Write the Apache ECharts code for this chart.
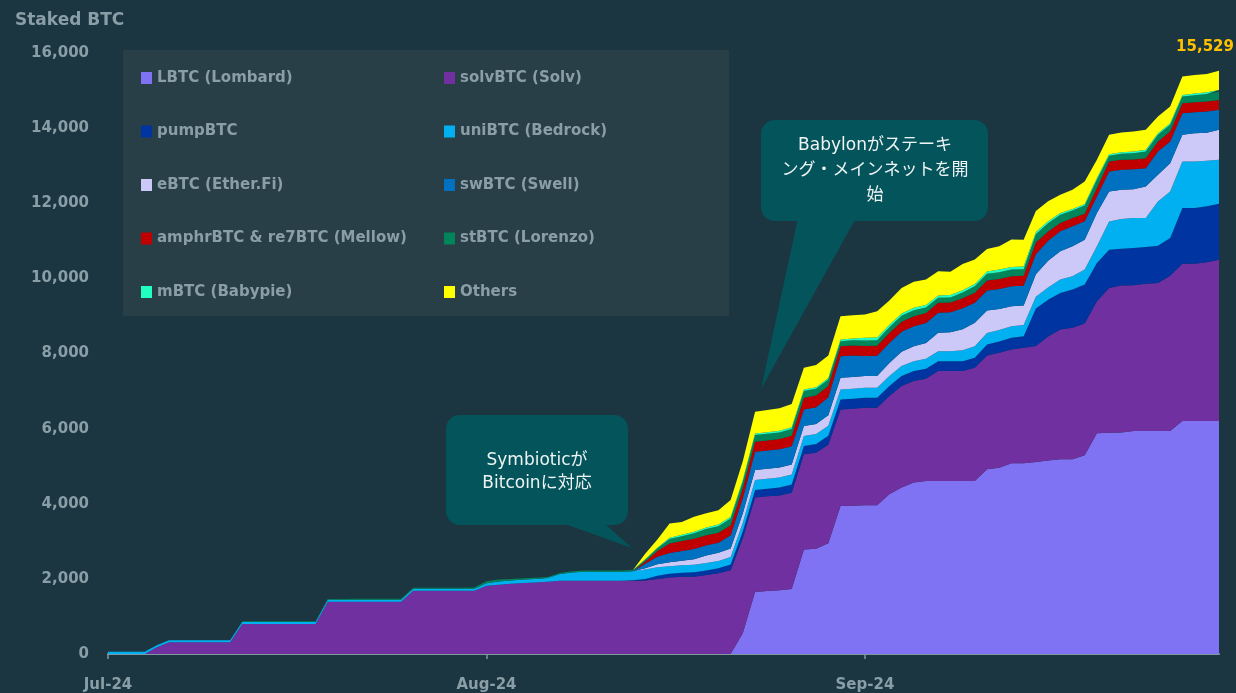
<!DOCTYPE html>
<html>
<head>
<meta charset="utf-8">
<script src="https://cdn.jsdelivr.net/npm/echarts@6/dist/echarts.min.js"></script>
<style>
  html, body { margin: 0; padding: 0; background: #1b3640; }
  #chart { width: 1236px; height: 693px; }
</style>
</head>
<body>
<div id="chart"></div>
<script>
// daily points, 1 Jul 2024 .. 30 Sep 2024
var startDay = new Date(Date.UTC(2024, 6, 1));
var dayCount = 92;
var monthNames = ['Jan','Feb','Mar','Apr','May','Jun','Jul','Aug','Sep','Oct','Nov','Dec'];

var lbtc = [
  0,0,0,0,0,0,0,0,0,0, 0,0,0,0,0,0,0,0,0,0, 0,0,0,0,0,0,0,0,0,0,
  0,0,0,0,0,0,0,0,0,0, 0,0,0,0,0,0,0,0,0,0, 0,0,
  560,1650,1680,1700,1730,2780,2800,2950,3942,3950,
  3960,3960,4253,4430,4563,4607,4607,4607,4607,4607,
  4917,4961,5076,5076,5111,5150,5182,5183,5289,5874,
  5892,5900,5936,5936,5936,5936,6202,6202,6202,6202
];
var solv = [
  0,0,0,0,177,310,310,310,310,310, 310,800,800,800,800,800,800,800,1390,1390,
  1390,1390,1390,1390,1390,1683,1683,1683,1683,1683, 1683,
  1816,1843,1870,1887,1905,1923,1950,1950,1950,1950,1950,1950,1950,
  1960,1994,2038,2055,2055,2100,2150,2230,2530,2515,
  2520,2520,2560,2536,2560,2620,2570,2580,2597,2597,
  2614,2702,2702,2720,2924,2924,2924,3013,3030,3057,
  3031,3075,3090,3300,3456,3500,3509,3517,3853,3907,
  3884,3924,3942,4137,4190,4190,4226,4297
];
var pump = [
  0,0,0,0,0,0,0,0,0,0, 0,0,0,0,0,0,0,0,0,0, 0,0,0,0,0,0,0,0,0,0,
  0,0,0,0,0,0,0,0,0,0, 0,0,0,
  15,40,88,100,110,120,125,133,150,180,200,200,210,221,221,230,240,
  266,266,266,266,266,266,266,266,266,266,266,266,
  290,300,310,310,1000,980,975,1018,1036,1019,1020,983,989,976,993,1002,1481,1481,1489,1489
];
var uni = [
  60,60,60,60,55,55,55,55,55,55, 55,55,55,55,55,55,55,55,55,55,
  55,55,55,55,55,55,55,55,55,55, 55,
  70,89,89,97,95,97,177,220,
  240,240,240,240,240,
  250,230,200,200,200,200,190,200,230,
  266,266,266,266,266,266,266,
  266,266,266,266,266,266,266,266,266,266,
  290,310,310,310,310,300,310,330,354,354,399,444,752,789,797,770,1178,1240,1239,1239,1213,1168
];
var ebtc = [
  0,0,0,0,0,0,0,0,0,0, 0,0,0,0,0,0,0,0,0,0, 0,0,0,0,0,0,0,0,0,0,
  0,0,0,0,0,0,0,0,0,0, 0,0,0,0,
  30,80,106,120,150,200,221,230,250,266,
  266,266,266,266,266,280,310,310,310,310,
  350,380,399,420,487,500,560,620,600,560,
  532,520,600,710,753,799,798,886,798,780,
  764,842,709,753,710,754,750,799
];
var swbtc = [
  0,0,0,0,0,0,0,0,0,0, 0,0,0,0,0,0,0,0,0,0, 0,0,0,0,0,0,0,0,0,0,
  0,0,0,0,0,0,0,0,0,0, 0,0,0,0,
  120,200,248,260,270,270,266,350,400,487,
  487,490,490,443,450,480,576,576,532,540,
  532,532,532,532,532,532,560,532,532,532,
  532,520,532,530,532,531,487,442,532,532,
  532,487,620,576,576,554,562,531
];
var mellow = [
  0,0,0,0,0,0,0,0,0,0, 0,0,0,0,0,0,0,0,0,0, 0,0,0,0,0,0,0,0,0,0,
  0,0,0,0,0,0,0,0,0,0, 0,0,0,0,
  60,150,248,260,270,266,266,270,266,266,
  266,270,280,310,310,300,266,266,266,266,
  266,266,266,266,266,266,266,266,
  266,266,266,266,
  310,250,222,220,200,222,265,265,265,265,
  266,266,266,266,266,266
];
var stbtc = [
  0,0,0,0,0,0,0,0,0,0, 0,20,20,20,20,20,20,20,20,20,
  25,25,25,25,25,25,25,25,25,25, 30,50,50,40,
  30,30,30,30,30,30,30,30,30,30,
  50,70,124,130,150,165,177,177,177,177,
  177,177,177,177,177,170,133,140,150,150,
  155,160,160,150,133,133,150,177,177,177,
  177,177,221,220,221,200,220,221,150,160,
  165,178,177,177,177,190,200,222
];
var mbtc = [
  0,0,0,0,0,0,0,0,0,0, 0,0,0,0,0,0,0,0,0,0, 0,0,0,0,0,0,0,0,0,0,
  0,0,0,0,0,0,0,0,0,0, 0,0,0,0,
  10,15,30,40,40,44,44,44,44,44,
  44,44,44,44,44,44,44,44,71,71,
  62,62,62,62,62,62,62,62,62,71,
  71,71,62,50,
  44,44,44,44,44,44,44,44,44,44,44,44,44,44
];
var others = [
  0,0,0,0,0,0,0,0,0,0, 0,0,0,0,0,0,0,0,0,0, 0,0,0,0,0,0,0,0,0,0,
  0,0,0,0,0,0,0,0,0,0, 0,0,0,0,
  150,220,380,340,400,380,380,450,500,576,
  590,600,620,576,590,600,620,620,620,700,
  650,680,691,680,647,620,700,650,600,620,
  727,716,560,530,487,510,599,487,516,524,
  534,533,444,444,487,496,491,511
];

var seriesNames = ['LBTC (Lombard)','solvBTC (Solv)','pumpBTC','uniBTC (Bedrock)','eBTC (Ether.Fi)',
  'swBTC (Swell)','amphrBTC & re7BTC (Mellow)','stBTC (Lorenzo)','mBTC (Babypie)','Others'];
var seriesData = [lbtc, solv, pump, uni, ebtc, swbtc, mellow, stbtc, mbtc, others];
var colors = ['#7f73f4','#7030a0','#0034a1','#00b0f0','#ccc8f8','#0070c0','#c00000','#00845a','#20ffc0','#ffff00'];
var yTicks = [0,2000,4000,6000,8000,10000,12000,14000,16000];

var dates = [];
for (var i = 0; i < dayCount; i++) {
  var d = new Date(startDay.getTime() + i * 86400000);
  dates.push(d.toISOString().slice(0, 10));
}
function isMonthStart(idx) { return dates[idx].slice(8) === '01'; }
function monthLabel(v) {
  var m = parseInt(v.slice(5, 7), 10) - 1;
  return monthNames[m] + '-' + v.slice(2, 4);
}

var last = dayCount - 1;
var total = 0;
seriesData.forEach(function (arr) { total += arr[last]; });

var txtColor = '#8a9ea7';
var font = 'DejaVu Sans';

var series = seriesNames.map(function (name, k) {
  var s = {
    name: name,
    type: 'line',
    stack: 'total',
    data: seriesData[k],
    symbol: 'none',
    lineStyle: { width: 0 },
    areaStyle: { color: colors[k], opacity: 1 },
    itemStyle: { color: colors[k] },
    emphasis: { disabled: true }
  };
  if (k === seriesNames.length - 1) {
    // total of the last day above the stack
    s.markPoint = {
      symbol: 'circle',
      symbolSize: 0,
      silent: true,
      data: [{ coord: [dates[last], total], value: total }],
      label: {
        show: true,
        position: 'top',
        offset: [-14, -11],
        color: '#ffc000',
        fontFamily: font,
        fontWeight: 'bold',
        fontSize: 15,
        formatter: function (p) { return Math.round(p.value).toLocaleString('en-US'); }
      }
    };
  }
  return s;
});

function legendCol(left, names) {
  return {
    orient: 'vertical',
    left: left,
    top: 64,
    itemWidth: 11,
    itemHeight: 12,
    itemGap: 35.5,
    icon: 'rect',
    selectedMode: false,
    data: names,
    textStyle: { color: txtColor, fontFamily: font, fontWeight: 'bold', fontSize: 15, lineHeight: 18 }
  };
}

var calloutFill = '#04545b';
var calloutFont = '17px "DejaVu Sans", "Noto Sans CJK JP"';

var chart = echarts.init(document.getElementById('chart'));
chart.setOption({
  backgroundColor: '#1b3640',
  animation: false,
  color: colors,
  title: {
    text: 'Staked BTC',
    left: 10, top: 7,
    textStyle: { color: txtColor, fontFamily: font, fontWeight: 'bold', fontSize: 17 }
  },
  legend: [
    legendCol(136, [seriesNames[0], seriesNames[2], seriesNames[4], seriesNames[6], seriesNames[8]]),
    legendCol(439, [seriesNames[1], seriesNames[3], seriesNames[5], seriesNames[7], seriesNames[9]])
  ],
  grid: { left: 108, right: 17, top: 53, bottom: 38 },
  xAxis: {
    type: 'category',
    data: dates,
    boundaryGap: false,
    axisLine: { lineStyle: { color: '#7f9a9e', width: 2 } },
    axisTick: { show: true, interval: function (idx) { return isMonthStart(idx); }, length: 5, lineStyle: { color: '#7f9a9e', width: 1.5 } },
    axisLabel: {
      interval: function (idx) { return isMonthStart(idx); },
      formatter: monthLabel,
      color: txtColor, fontFamily: font, fontWeight: 'bold', fontSize: 15, margin: 24
    },
    splitLine: { show: false }
  },
  yAxis: {
    type: 'value',
    min: yTicks[0],
    max: yTicks[yTicks.length - 1],
    interval: yTicks[1] - yTicks[0],
    axisLine: { show: false },
    axisTick: { show: false },
    splitLine: { show: false },
    axisLabel: {
      color: txtColor, fontFamily: font, fontWeight: 'bold', fontSize: 15, margin: 19,
      formatter: function (v) { return v.toLocaleString('en-US'); }
    }
  },
  graphic: [
    { type: 'rect', z: 0, shape: { x: 123, y: 50, width: 606, height: 266 }, style: { fill: '#293f47' } },
    { type: 'polygon', z: 10, shape: { points: [[565, 524], [605, 524], [632, 548]] }, style: { fill: calloutFill } },
    { type: 'rect', z: 10, shape: { x: 446, y: 415, width: 182, height: 110, r: 14 }, style: { fill: calloutFill } },
    { type: 'text', z: 11, style: { text: 'Symbioticが\nBitcoinに対応', x: 537, y: 472, font: calloutFont, fill: '#eef4f4', textAlign: 'center', textVerticalAlign: 'middle', lineHeight: 23 } },
    { type: 'polygon', z: 10, shape: { points: [[798, 218], [856, 218], [761, 389]] }, style: { fill: calloutFill } },
    { type: 'rect', z: 10, shape: { x: 761, y: 120, width: 227, height: 101, r: 14 }, style: { fill: calloutFill } },
    { type: 'text', z: 11, style: { text: 'Babylonがステーキ\nング・メインネットを開\n始', x: 875, y: 171, font: calloutFont, fill: '#eef4f4', textAlign: 'center', textVerticalAlign: 'middle', lineHeight: 25 } }
  ],
  series: series
});
</script>
</body>
</html>
